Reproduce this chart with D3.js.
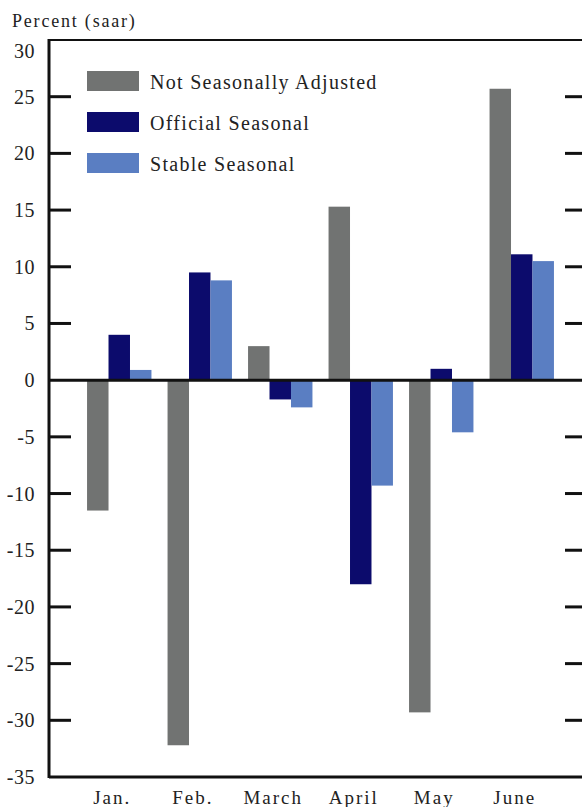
<!DOCTYPE html>
<html>
<head>
<meta charset="utf-8">
<script src="https://cdn.jsdelivr.net/npm/d3@7"></script>
<style>
  body { margin: 0; background: #fff; }
  text { font-family: 'Liberation Serif', 'DejaVu Serif', serif; fill: #222; }
</style>
</head>
<body>
<svg id="chart" width="582" height="807"></svg>
<script>
// data
const months = ['Jan.', 'Feb.', 'March', 'April', 'May', 'June']
const series = ['Not Seasonally Adjusted', 'Official Seasonal', 'Stable Seasonal']
const notAdjusted = [-11.5, -32.2, 3.0, 15.3, -29.3, 25.7]
const official = [4.0, 9.5, -1.7, -18.0, 1.0, 11.1]
const stable = [0.9, 8.8, -2.4, -9.3, -4.6, 10.5]
const yTicks = [30, 25, 20, 15, 10, 5, 0, -5, -10, -15, -20, -25, -30, -35]

const colors = ['#717372', '#0c0b6c', '#5a7ec2']

const svg = d3.select('#chart')
const plotLeft = 49, plotRight = 600, plotTop = 40, plotBottom = 777

const y = d3.scaleLinear().domain([-35, 30]).range([plotBottom, plotTop])
const x = d3.scaleBand().domain(months).range([79, 562]).paddingInner(0.2).paddingOuter(0.1)
const xs = d3.scaleBand().domain(series).range([0, x.bandwidth()])

const rows = months.map((m, i) => ({
  month: m,
  values: [notAdjusted[i], official[i], stable[i]].map((v, j) => ({ key: series[j], value: v, color: colors[j] }))
}))

// bars
svg.append('g')
  .selectAll('g')
  .data(rows)
  .enter()
  .append('g')
  .attr('transform', d => `translate(${x(d.month)},0)`)
  .selectAll('rect')
  .data(d => d.values)
  .enter()
  .append('rect')
  .attr('x', d => xs(d.key))
  .attr('width', xs.bandwidth())
  .attr('y', d => y(Math.max(0, d.value)))
  .attr('height', d => Math.abs(y(d.value) - y(0)))
  .attr('fill', d => d.color)

// frame
svg.append('line').attr('x1', plotLeft).attr('x2', plotLeft).attr('y1', plotTop - 1).attr('y2', plotBottom + 1)
  .attr('stroke', '#111').attr('stroke-width', 3)
svg.append('line').attr('x1', plotLeft).attr('x2', plotRight).attr('y1', plotTop).attr('y2', plotTop)
  .attr('stroke', '#111').attr('stroke-width', 2)
svg.append('line').attr('x1', plotLeft).attr('x2', plotRight).attr('y1', plotBottom).attr('y2', plotBottom)
  .attr('stroke', '#111').attr('stroke-width', 3)
svg.append('line').attr('x1', plotLeft).attr('x2', plotRight).attr('y1', y(0)).attr('y2', y(0))
  .attr('stroke', '#111').attr('stroke-width', 3)

// ticks on both sides
const inner = yTicks.filter(t => t > -35 && t < 30 && t !== 0)
svg.append('g').selectAll('line').data(inner).enter().append('line')
  .attr('x1', plotLeft).attr('x2', 71).attr('y1', d => y(d)).attr('y2', d => y(d))
  .attr('stroke', '#111').attr('stroke-width', 3)
svg.append('g').selectAll('line').data(inner).enter().append('line')
  .attr('x1', 565).attr('x2', 582).attr('y1', d => y(d)).attr('y2', d => y(d))
  .attr('stroke', '#111').attr('stroke-width', 3)

// top label sits a little below the frame line
svg.append('g').selectAll('text').data(yTicks).enter().append('text')
  .attr('x', 35).attr('y', d => y(d) + 7 + (d === 30 ? 11 : 0))
  .attr('text-anchor', 'end')
  .style('font-size', '20px')
  .style('letter-spacing', '0.5px')
  .text(d => d)

svg.append('text').attr('x', 12).attr('y', 27)
  .style('font-size', '18px').style('letter-spacing', '1.8px')
  .text('Percent (saar)')

// month labels
svg.append('g').selectAll('text').data(months).enter().append('text')
  .attr('x', d => x(d) + x.bandwidth() / 2 - 7)
  .attr('y', 804)
  .attr('text-anchor', 'middle')
  .style('font-size', '19px')
  .style('letter-spacing', '2px')
  .text(d => d)

// legend
const legend = svg.append('g').selectAll('g').data(series).enter().append('g')
  .attr('transform', (d, i) => `translate(87,${71 + i * 41})`)
legend.append('rect').attr('width', 52).attr('height', 20).attr('fill', (d, i) => colors[i])
legend.append('text').attr('x', 63).attr('y', 18)
  .style('font-size', '20px').style('letter-spacing', '1.3px')
  .text(d => d)
</script>
</body>
</html>
